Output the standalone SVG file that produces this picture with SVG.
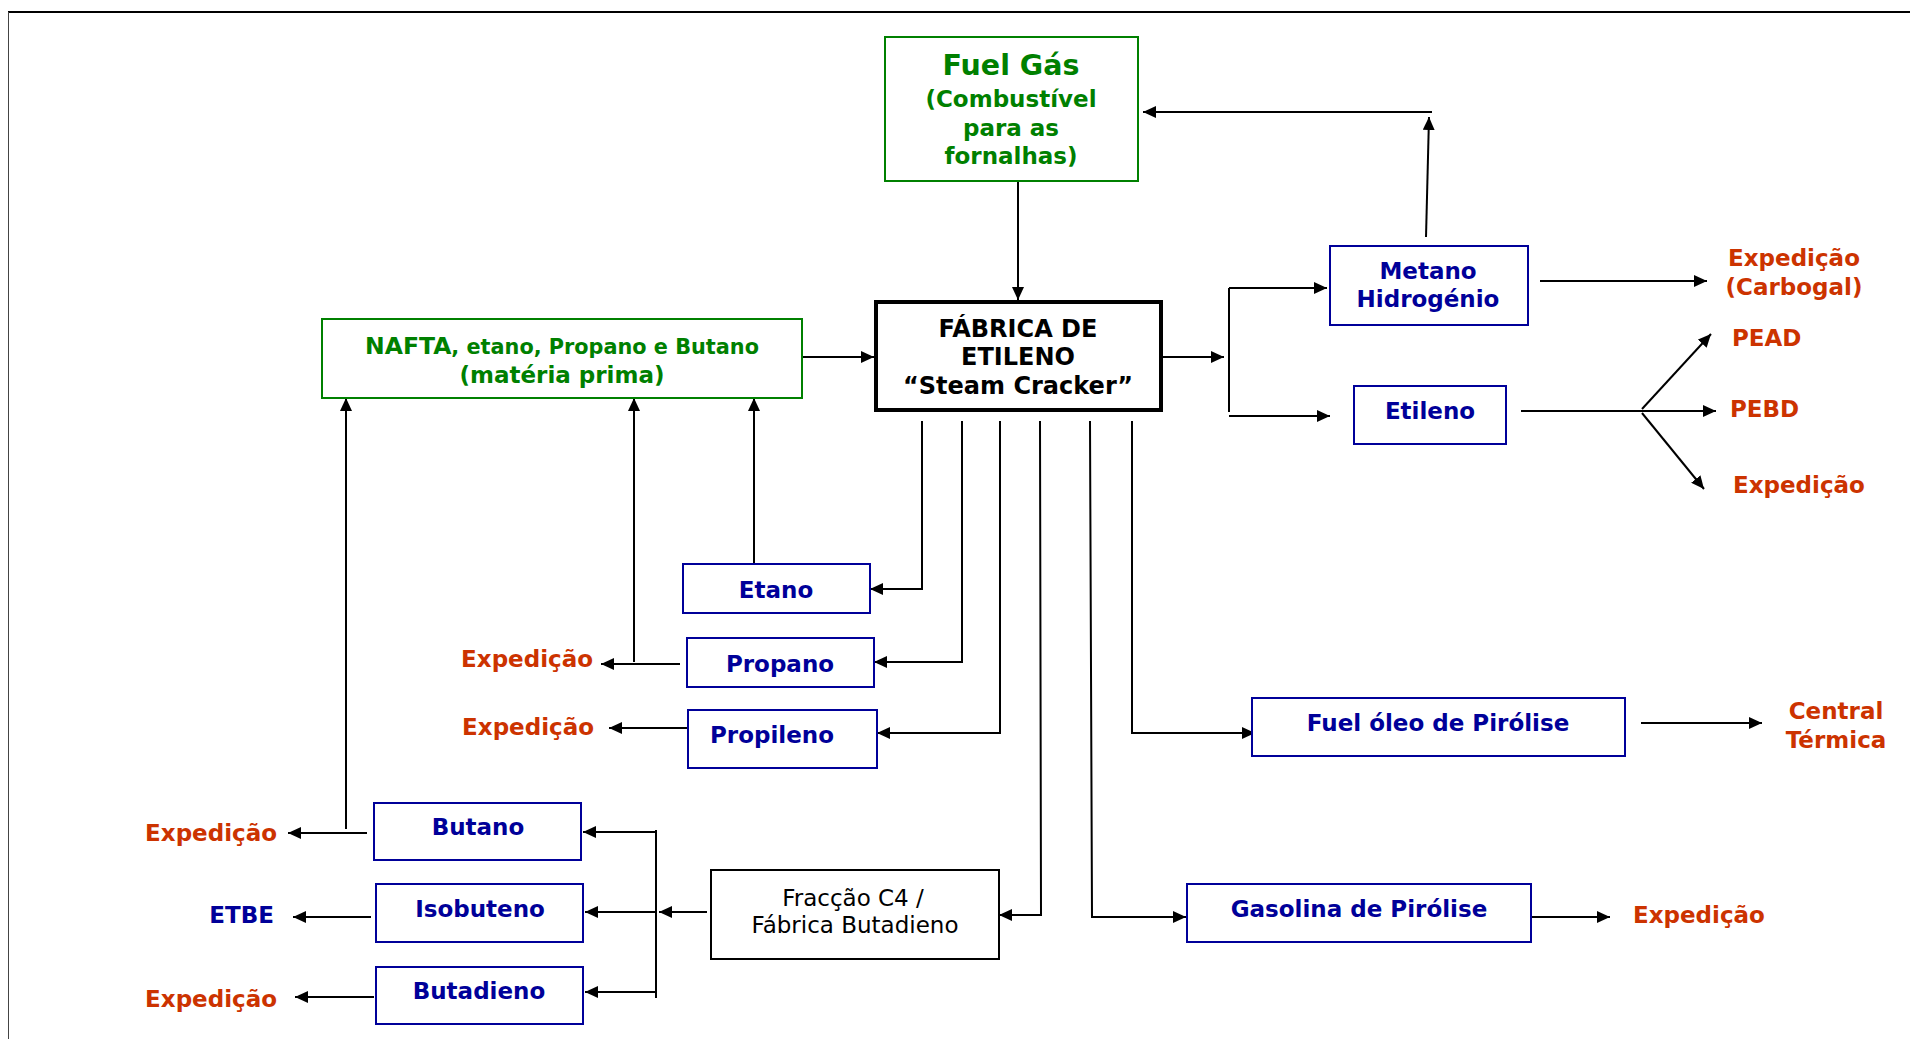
<svg xmlns="http://www.w3.org/2000/svg" width="1910" height="1039" viewBox="0 0 1910 1039">
<defs>
<marker id="ah" viewBox="0 0 10 10" refX="10" refY="5" markerWidth="13" markerHeight="12" markerUnits="userSpaceOnUse" orient="auto" preserveAspectRatio="none"><path d="M0,0 L10,5 L0,10 z" fill="#000"/></marker>
<style>
text{font-family:"DejaVu Sans","Verdana",sans-serif;font-weight:bold;font-size:23px}
.g{fill:#008000}
.b{fill:#000099}
.r{fill:#CC3300}
.k{fill:#000}
.m{text-anchor:middle}
.e{text-anchor:end}
.bx{fill:#fff;stroke:#000099;stroke-width:2}
.gx{fill:#fff;stroke:#008000;stroke-width:2}
.c path,.c line{fill:none;stroke:#000;stroke-width:2}
.a{marker-end:url(#ah)}
</style>
</defs>
<rect width="1910" height="1039" fill="#fff"/>
<line x1="8" y1="12" x2="1910" y2="12" stroke="#000" stroke-width="2"/>
<line x1="8.5" y1="12" x2="8.5" y2="1039" stroke="#444" stroke-width="1"/>

<g class="c" id="connectors">
<line x1="1018" y1="181" x2="1018" y2="300" class="a"/>
<line x1="1426" y1="237" x2="1429" y2="117" class="a"/>
<line x1="1432" y1="112" x2="1143" y2="112" class="a"/>
<line x1="802" y1="357" x2="874" y2="357" class="a"/>
<line x1="1163" y1="357" x2="1224" y2="357" class="a"/>
<line x1="1229" y1="288" x2="1229" y2="412"/>
<line x1="1229" y1="288" x2="1327" y2="288" class="a"/>
<line x1="1229" y1="416" x2="1330" y2="416" class="a"/>
<line x1="1540" y1="281" x2="1707" y2="281" class="a"/>
<line x1="1521" y1="411" x2="1642" y2="411"/>
<line x1="1642" y1="411" x2="1716" y2="411" class="a"/>
<line x1="1642" y1="409" x2="1711" y2="334" class="a"/>
<line x1="1642" y1="413" x2="1704" y2="489" class="a"/>
<path d="M922,421 V589 H870" class="a"/>
<path d="M962,421 V662 H874" class="a"/>
<path d="M1000,421 V733 H877" class="a"/>
<path d="M1040,421 L1041,915 H999" class="a"/>
<path d="M1090,421 L1092,917 H1186" class="a"/>
<path d="M1132,421 V733 H1255" class="a"/>
<line x1="1641" y1="723" x2="1762" y2="723" class="a"/>
<line x1="1531" y1="917" x2="1610" y2="917" class="a"/>
<line x1="754" y1="563" x2="754" y2="398" class="a"/>
<line x1="680" y1="664" x2="601" y2="664" class="a"/>
<line x1="634" y1="662" x2="634" y2="398" class="a"/>
<line x1="687" y1="728" x2="609" y2="728" class="a"/>
<line x1="707" y1="912" x2="659" y2="912" class="a"/>
<line x1="656" y1="830" x2="656" y2="998"/>
<line x1="656" y1="832" x2="583" y2="832" class="a"/>
<line x1="656" y1="912" x2="585" y2="912" class="a"/>
<line x1="656" y1="992" x2="585" y2="992" class="a"/>
<line x1="367" y1="833" x2="288" y2="833" class="a"/>
<line x1="346" y1="829" x2="346" y2="398" class="a"/>
<line x1="371" y1="917" x2="293" y2="917" class="a"/>
<line x1="374" y1="997" x2="295" y2="997" class="a"/>
</g>

<g id="fuelgas">
<rect x="885" y="37" width="253" height="144" class="gx"/>
<text x="1011" y="75" class="g m" style="font-size:28.5px">Fuel Gás</text>
<text x="1011" y="107" class="g m">(Combustível</text>
<text x="1011" y="136" class="g m">para as</text>
<text x="1011" y="164" class="g m">fornalhas)</text>
</g>

<g id="nafta">
<rect x="322" y="319" width="480" height="79" class="gx"/>
<text x="562" y="354" class="g m"><tspan style="font-size:23.5px">NAFTA</tspan><tspan style="font-size:20.8px">, etano, Propano e Butano</tspan></text>
<text x="562" y="383" class="g m">(matéria prima)</text>
</g>

<g id="fabrica">
<rect x="876" y="302" width="285" height="108" fill="#fff" stroke="#000" stroke-width="4"/>
<text x="1018" y="337" class="k m" style="font-size:24px">FÁBRICA DE</text>
<text x="1018" y="365" class="k m" style="font-size:24px">ETILENO</text>
<text x="1018" y="394" class="k m" style="font-size:24px">“Steam Cracker”</text>
</g>

<g id="metano">
<rect x="1330" y="246" width="198" height="79" class="bx"/>
<text x="1428" y="279" class="b m">Metano</text>
<text x="1428" y="307" class="b m">Hidrogénio</text>
</g>

<g id="etileno">
<rect x="1354" y="386" width="152" height="58" class="bx"/>
<text x="1430" y="419" class="b m">Etileno</text>
</g>

<g id="etano">
<rect x="683" y="564" width="187" height="49" class="bx"/>
<text x="776" y="598" class="b m">Etano</text>
</g>

<g id="propano">
<rect x="687" y="638" width="187" height="49" class="bx"/>
<text x="780" y="672" class="b m">Propano</text>
</g>

<g id="propileno">
<rect x="688" y="710" width="189" height="58" class="bx"/>
<text x="772" y="743" class="b m">Propileno</text>
</g>

<g id="fueloleo">
<rect x="1252" y="698" width="373" height="58" class="bx"/>
<text x="1438" y="731" class="b m">Fuel óleo de Pirólise</text>
</g>

<g id="gasolina">
<rect x="1187" y="884" width="344" height="58" class="bx"/>
<text x="1359" y="917" class="b m">Gasolina de Pirólise</text>
</g>

<g id="fraccao">
<rect x="711" y="870" width="288" height="89" fill="#fff" stroke="#000" stroke-width="2"/>
<text x="853" y="906" class="k m" style="font-weight:normal">Fracção C4 /</text>
<text x="855" y="933" class="k m" style="font-weight:normal">Fábrica Butadieno</text>
</g>

<g id="butano">
<rect x="374" y="803" width="207" height="57" class="bx"/>
<text x="478" y="835" class="b m">Butano</text>
</g>

<g id="isobuteno">
<rect x="376" y="884" width="207" height="58" class="bx"/>
<text x="480" y="917" class="b m">Isobuteno</text>
</g>

<g id="butadieno">
<rect x="376" y="967" width="207" height="57" class="bx"/>
<text x="479" y="999" class="b m">Butadieno</text>
</g>

<g id="outputs">
<text x="1794" y="266" class="r m">Expedição</text>
<text x="1794" y="295" class="r m">(Carbogal)</text>
<text x="1732" y="346" class="r">PEAD</text>
<text x="1730" y="417" class="r">PEBD</text>
<text x="1733" y="493" class="r">Expedição</text>
<text x="1836" y="719" class="r m">Central</text>
<text x="1836" y="748" class="r m">Térmica</text>
<text x="1633" y="923" class="r">Expedição</text>
<text x="593" y="667" class="r e">Expedição</text>
<text x="594" y="735" class="r e">Expedição</text>
<text x="277" y="841" class="r e">Expedição</text>
<text x="274" y="923" class="b e">ETBE</text>
<text x="277" y="1007" class="r e">Expedição</text>
</g>
</svg>
